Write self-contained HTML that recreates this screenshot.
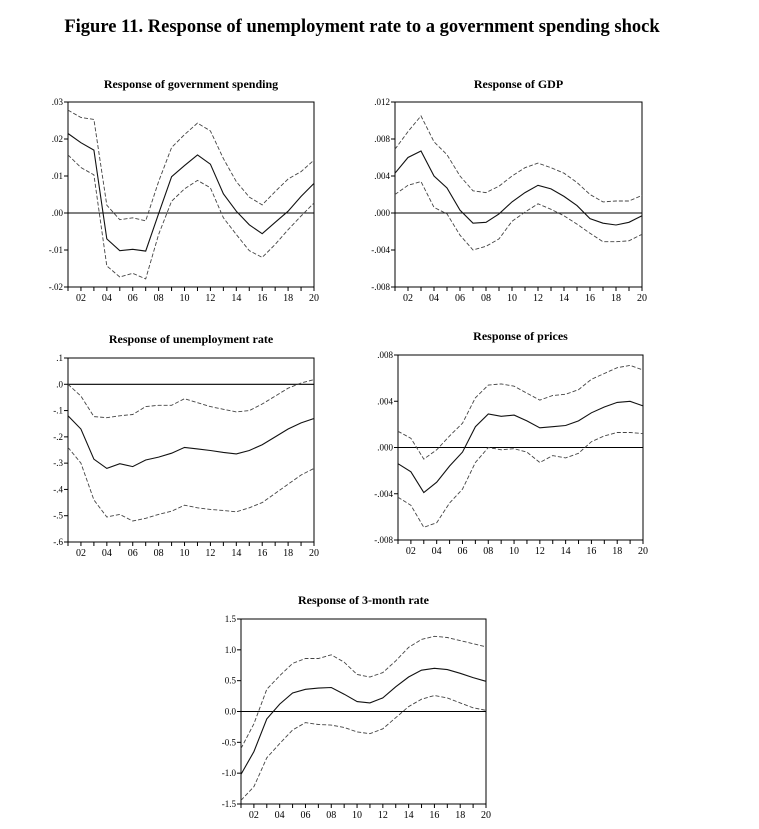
<!DOCTYPE html>
<html><head><meta charset="utf-8"><style>
body{margin:0;background:#fff;width:759px;height:824px;overflow:hidden}
svg{font-family:"Liberation Serif",serif}
</style></head><body>
<svg id="c" width="759" height="824">
<text x="362" y="32" text-anchor="middle" font-size="18.5" font-weight="bold">Figure 11. Response of unemployment rate to a government spending shock</text>
</svg>
<script>
const periods=[1,2,3,4,5,6,7,8,9,10,11,12,13,14,15,16,17,18,19,20];
const xTickLabels=["02","04","06","08","10","12","14","16","18","20"];
const gsMean=[.0215,.019,.017,-.007,-.0102,-.0098,-.0103,-.0002,.0098,.0128,.0157,.0132,.0052,.0005,-.0032,-.0056,-.0025,.0005,.0045,.008];
const gsUpper=[.0278,.0258,.0253,.0021,-.0018,-.0013,-.0021,.0085,.0177,.0212,.0243,.0222,.0147,.0085,.0043,.0022,.0058,.0092,.0112,.0143];
const gsLower=[.0157,.0123,.0103,-.0143,-.0173,-.0163,-.0178,-.0058,.0032,.0065,.0088,.0068,-.0013,-.0058,-.0102,-.012,-.0085,-.0045,-.0008,.0027];
const gsTicks=[-.02,-.01,0,.01,.02,.03];
const gsTickLabels=["-.02","-.01",".00",".01",".02",".03"];
const gdpMean=[.0043,.006,.0067,.004,.0027,.0003,-.0011,-.001,-.0001,.0012,.0022,.003,.0026,.0018,.0008,-.0006,-.0011,-.0013,-.001,-.0003];
const gdpUpper=[.0069,.0088,.0105,.0077,.0063,.004,.0024,.0022,.0029,.004,.0049,.0054,.0049,.0043,.0033,.002,.0012,.0013,.0013,.0019];
const gdpLower=[.002,.003,.0034,.0006,-.0001,-.0024,-.004,-.0036,-.0028,-.0009,.0001,.001,.0004,-.0003,-.0012,-.0022,-.0031,-.0031,-.003,-.0023];
const gdpTicks=[-.008,-.004,0,.004,.008,.012];
const gdpTickLabels=["-.008","-.004",".000",".004",".008",".012"];
const urMean=[-.12,-.17,-.285,-.32,-.302,-.313,-.288,-.277,-.262,-.24,-.246,-.252,-.259,-.265,-.252,-.23,-.2,-.17,-.147,-.13];
const urUpper=[0,-.045,-.123,-.127,-.12,-.115,-.085,-.08,-.08,-.055,-.07,-.085,-.095,-.105,-.1,-.075,-.045,-.015,.005,.018];
const urLower=[-.24,-.3,-.44,-.505,-.495,-.52,-.51,-.495,-.483,-.46,-.47,-.476,-.48,-.485,-.47,-.45,-.415,-.38,-.345,-.32];
const urTicks=[-.6,-.5,-.4,-.3,-.2,-.1,0,.1];
const urTickLabels=["-.6","-.5","-.4","-.3","-.2","-.1",".0",".1"];
const prMean=[-.0014,-.0021,-.0039,-.003,-.0016,-.0004,.0018,.0029,.0027,.0028,.0023,.0017,.0018,.0019,.0023,.003,.0035,.0039,.004,.0036];
const prUpper=[.0014,.0008,-.001,-.0002,.001,.0021,.0043,.0054,.0055,.0053,.0047,.0041,.0045,.0046,.005,.0059,.0064,.0069,.0071,.0067];
const prLower=[-.0043,-.005,-.0069,-.0065,-.0048,-.0036,-.0013,0,-.0002,-.0001,-.0004,-.0013,-.0007,-.0009,-.0005,.0005,.001,.0013,.0013,.0012];
const prTicks=[-.008,-.004,0,.004,.008];
const prTickLabels=["-.008","-.004",".000",".004",".008"];
const rtMean=[-1.02,-.65,-.12,.12,.3,.36,.38,.39,.28,.16,.14,.22,.4,.56,.67,.7,.68,.62,.55,.49];
const rtUpper=[-.6,-.2,.36,.58,.78,.86,.86,.92,.8,.6,.56,.63,.82,1.04,1.17,1.22,1.2,1.15,1.1,1.05];
const rtLower=[-1.44,-1.22,-.75,-.52,-.3,-.18,-.21,-.22,-.26,-.33,-.36,-.28,-.1,.08,.2,.26,.22,.14,.06,.02];
const rtTicks=[-1.5,-1,-.5,0,.5,1,1.5];
const rtTickLabels=["-1.5","-1.0","-0.5","0.0","0.5","1.0","1.5"];

const NS="http://www.w3.org/2000/svg";
const svg=document.getElementById('c');
function mk(tag,attrs,parent){const e=document.createElementNS(NS,tag);for(const k in attrs)e.setAttribute(k,attrs[k]);(parent||svg).appendChild(e);return e;}
function panel(key,title,L,R,T,B,titleY,ticks,tickLabels,mean,upper,lower){
  const g=mk('g',{});
  
  
  const ymin=ticks[0],ymax=ticks[ticks.length-1];
  const xs=p=>L+(p-1)*(R-L)/19;
  const ys=v=>B-(v-ymin)*(B-T)/(ymax-ymin);
  const t=mk('text',{x:(L+R)/2,y:titleY,'text-anchor':'middle','font-size':12,'font-weight':'bold'},g);
  t.textContent=title;
  
  
  const fr=mk('rect',{x:L,y:T,width:R-L,height:B-T,fill:'none',stroke:'#000','stroke-width':1},g);
  
  
  ticks.forEach((v,i)=>{
    mk('line',{x1:L-4,x2:L,y1:ys(v),y2:ys(v),stroke:'#000'},g);
    const tl=mk('text',{x:L-5,y:ys(v)+3,'text-anchor':'end','font-size':9},g);
    tl.textContent=tickLabels[i];
    
    
  });
  periods.forEach(p=>{mk('line',{x1:xs(p),x2:xs(p),y1:B,y2:B+4,stroke:'#000'},g);});
  xTickLabels.forEach(s=>{
    const tl=mk('text',{x:xs(parseInt(s,10)),y:B+14,'text-anchor':'middle','font-size':10},g);
    tl.textContent=s;
    
    
  });
  const z=mk('line',{x1:L,x2:R,y1:ys(0),y2:ys(0),stroke:'#000','stroke-width':1.1},g);
  
  
  [[upper,'upper-band',true],[lower,'lower-band',true],[mean,'response',false]].forEach(([arr,nm,d])=>{
    const pts=arr.map((v,i)=>xs(periods[i]).toFixed(1)+','+ys(v).toFixed(1)).join(' ');
    const pl=mk('polyline',{points:pts,fill:'none',stroke:d?'#444':'#111','stroke-width':d?0.9:1.1,'stroke-dasharray':d?'4,2':'none'},g);
    
    
  });
}
panel('gov-spending','Response of government spending',68,314,102,287,88,gsTicks,gsTickLabels,gsMean,gsUpper,gsLower);
panel('gdp','Response of GDP',395,642,102,287,88,gdpTicks,gdpTickLabels,gdpMean,gdpUpper,gdpLower);
panel('unemployment','Response of unemployment rate',68,314,358,542,343,urTicks,urTickLabels,urMean,urUpper,urLower);
panel('prices','Response of prices',398,643,355,540,340,prTicks,prTickLabels,prMean,prUpper,prLower);
panel('rate-3m','Response of 3-month rate',241,486,619,804,604,rtTicks,rtTickLabels,rtMean,rtUpper,rtLower);
</script>
</body></html>
